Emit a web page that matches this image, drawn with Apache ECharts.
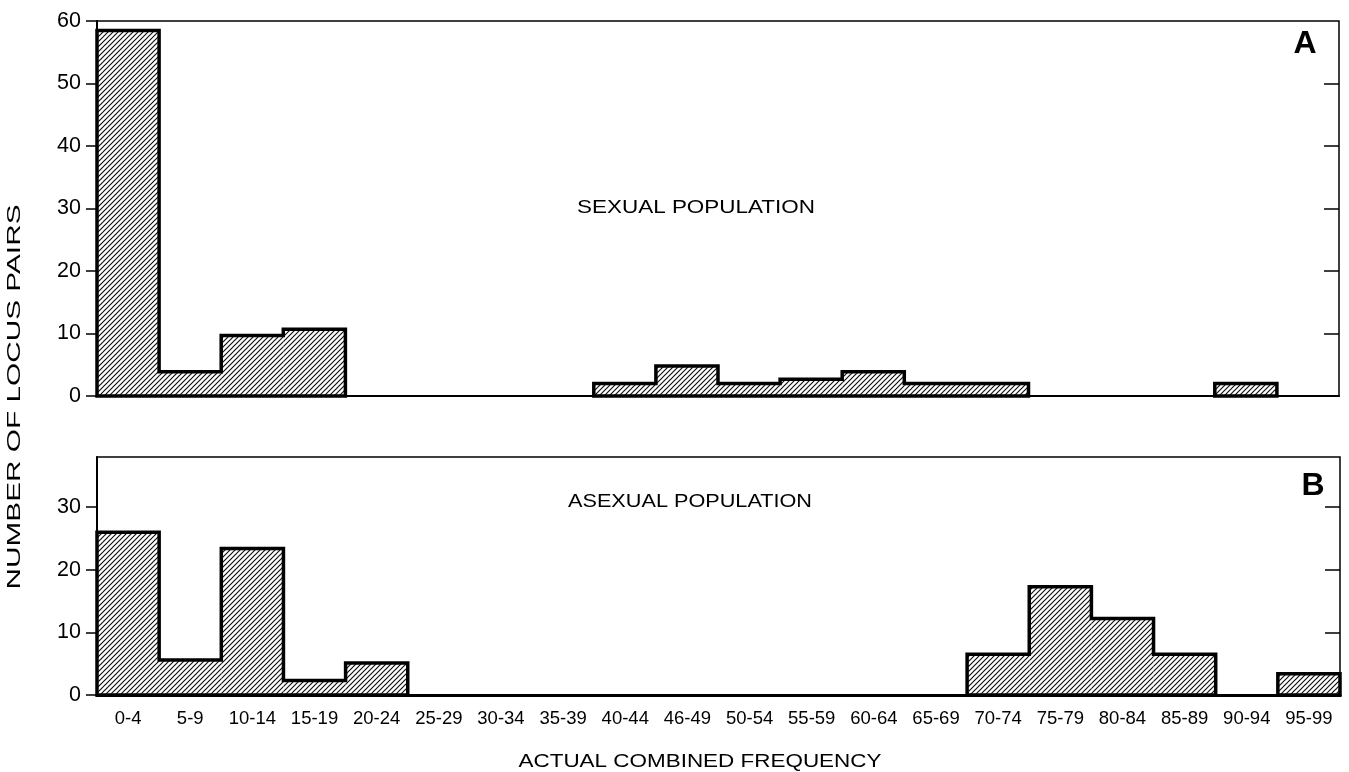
<!DOCTYPE html>
<html>
<head>
<meta charset="utf-8">
<script src="https://cdn.jsdelivr.net/npm/echarts@6/dist/echarts.min.js"></script>
<style>
html,body{margin:0;padding:0;background:#fff;}
#chart{width:1349px;height:772px;}
</style>
</head>
<body>
<div id="chart"></div>
<script>
// ---- data ----
const categories = ['0-4','5-9','10-14','15-19','20-24','25-29','30-34','35-39','40-44','46-49',
  '50-54','55-59','60-64','65-69','70-74','75-79','80-84','85-89','90-94','95-99'];
const sexualCounts = [58.5, 3.9, 9.7, 10.7, 0, 0, 0, 0, 2, 4.8, 2, 2.7, 3.9, 2, 2, 0, 0, 0, 2, 0];
const asexualCounts = [26, 5.6, 23.4, 2.3, 5.1, 0, 0, 0, 0, 0, 0, 0, 0, 0, 6.5, 17.3, 12.2, 6.5, 0, 3.4];
const topTicks = [0, 10, 20, 30, 40, 50, 60];
const bottomTicks = [0, 10, 20, 30];
const topMax = 60;
const bottomMax = 38;

// ---- hatch pattern ----
function makeHatch() {
  const s = 5;
  const c = document.createElement('canvas');
  c.width = s; c.height = s;
  const g = c.getContext('2d');
  g.fillStyle = '#fff';
  g.fillRect(0, 0, s, s);
  g.strokeStyle = '#111';
  g.lineWidth = 1.2;
  g.beginPath();
  g.moveTo(-1, s + 1); g.lineTo(s + 1, -1);
  g.moveTo(-1, 1); g.lineTo(1, -1);
  g.moveTo(s - 1, s + 1); g.lineTo(s + 1, s - 1);
  g.stroke();
  return c;
}
const hatch = { image: makeHatch(), repeat: 'repeat' };

// outline of each run of non-empty bins (closed contour), runs separated by breaks
function outline(vals) {
  const pts = [];
  let i = 0;
  while (i < vals.length) {
    if (!vals[i]) { i++; continue; }
    const s = i;
    pts.push([s, 0]);
    while (i < vals.length && vals[i]) {
      pts.push([i, vals[i]]);
      pts.push([i + 1, vals[i]]);
      i++;
    }
    pts.push([i, 0]);
    pts.push([s, 0]);
    pts.push('-');
  }
  return pts;
}

// text measuring for stretched labels
const mctx = document.createElement('canvas').getContext('2d');
function stretch(text, font, target) {
  mctx.font = font;
  return target / mctx.measureText(text).width;
}

const FONT = '"Liberation Sans", Arial, sans-serif';
const chart = echarts.init(document.getElementById('chart'), null, { renderer: 'canvas' });

function catAxis(gridIndex, showLabels, lw) {
  return {
    type: 'category', gridIndex, data: categories, boundaryGap: true,
    axisLine: { show: true, lineStyle: { color: '#000', width: lw } },
    axisTick: { show: false },
    axisLabel: { show: showLabels, color: '#000', fontSize: 18.5, fontFamily: FONT, margin: 14, interval: 0 },
    splitLine: { show: false }
  };
}
function valX(gridIndex) {
  return { type: 'value', gridIndex, min: 0, max: categories.length, show: false };
}
function leftY(gridIndex, max, ticks) {
  return {
    type: 'value', gridIndex, min: 0, max, position: 'left',
    axisLine: { show: true, lineStyle: { color: '#000', width: 2 } },
    axisTick: { show: true, inside: false, length: 11, customValues: ticks, lineStyle: { color: '#000', width: 1.5 } },
    axisLabel: { show: true, customValues: ticks, color: '#000', fontSize: 21.5, fontFamily: FONT, margin: 16 },
    splitLine: { show: false }
  };
}
function rightY(gridIndex, max, ticks) {
  return {
    type: 'value', gridIndex, min: 0, max, position: 'right',
    axisLine: { show: false },
    axisTick: { show: true, inside: true, length: 15, customValues: ticks, lineStyle: { color: '#000', width: 1.5 } },
    axisLabel: { show: false },
    splitLine: { show: false }
  };
}

const titleFont = '18.5px ' + FONT;

const option = {
  backgroundColor: '#fff',
  animation: false,
  grid: [
    { left: 97, right: 10, top: 21, height: 375, show: true, borderColor: '#000', borderWidth: 1.5, backgroundColor: 'transparent' },
    { left: 97, right: 9, top: 457, height: 238, show: true, borderColor: '#000', borderWidth: 1.5, backgroundColor: 'transparent' }
  ],
  xAxis: [catAxis(0, false, 2), valX(0), catAxis(1, true, 3), valX(1)],
  yAxis: [
    leftY(0, topMax, topTicks), rightY(0, topMax, topTicks.slice(1, -1)),
    leftY(1, bottomMax, bottomTicks), rightY(1, bottomMax, bottomTicks.slice(1))
  ],
  series: [
    { type: 'bar', xAxisIndex: 0, yAxisIndex: 0, data: sexualCounts, barWidth: '100%', barCategoryGap: '0%',
      itemStyle: { color: hatch }, silent: true },
    { type: 'line', xAxisIndex: 1, yAxisIndex: 0, data: outline(sexualCounts), symbol: 'none', clip: false,
      connectNulls: false, lineStyle: { color: '#000', width: 3.5, join: 'miter', cap: 'square' }, silent: true, z: 5 },
    { type: 'bar', xAxisIndex: 2, yAxisIndex: 2, data: asexualCounts, barWidth: '100%', barCategoryGap: '0%',
      itemStyle: { color: hatch }, silent: true },
    { type: 'line', xAxisIndex: 3, yAxisIndex: 2, data: outline(asexualCounts), symbol: 'none', clip: false,
      connectNulls: false, lineStyle: { color: '#000', width: 3.5, join: 'miter', cap: 'square' }, silent: true, z: 5 }
  ],
  graphic: [
    { type: 'text', x: 696, y: 208, scaleX: stretch('SEXUAL POPULATION', titleFont, 238),
      style: { text: 'SEXUAL POPULATION', font: titleFont, fill: '#000', align: 'center', verticalAlign: 'middle' } },
    { type: 'text', x: 690, y: 502, scaleX: stretch('ASEXUAL POPULATION', titleFont, 244),
      style: { text: 'ASEXUAL POPULATION', font: titleFont, fill: '#000', align: 'center', verticalAlign: 'middle' } },
    { type: 'text', x: 700, y: 762, scaleX: stretch('ACTUAL COMBINED FREQUENCY', titleFont, 363),
      style: { text: 'ACTUAL COMBINED FREQUENCY', font: titleFont, fill: '#000', align: 'center', verticalAlign: 'middle' } },
    { type: 'text', x: 15, y: 397, rotation: Math.PI / 2, scaleX: stretch('NUMBER OF LOCUS PAIRS', titleFont, 385),
      style: { text: 'NUMBER OF LOCUS PAIRS', font: titleFont, fill: '#000', align: 'center', verticalAlign: 'middle' } },
    { type: 'text', x: 1305, y: 44,
      style: { text: 'A', font: 'bold 32px ' + FONT, fill: '#000', align: 'center', verticalAlign: 'middle' } },
    { type: 'text', x: 1313, y: 486,
      style: { text: 'B', font: 'bold 32px ' + FONT, fill: '#000', align: 'center', verticalAlign: 'middle' } }
  ]
};
chart.setOption(option);
</script>
</body>
</html>
